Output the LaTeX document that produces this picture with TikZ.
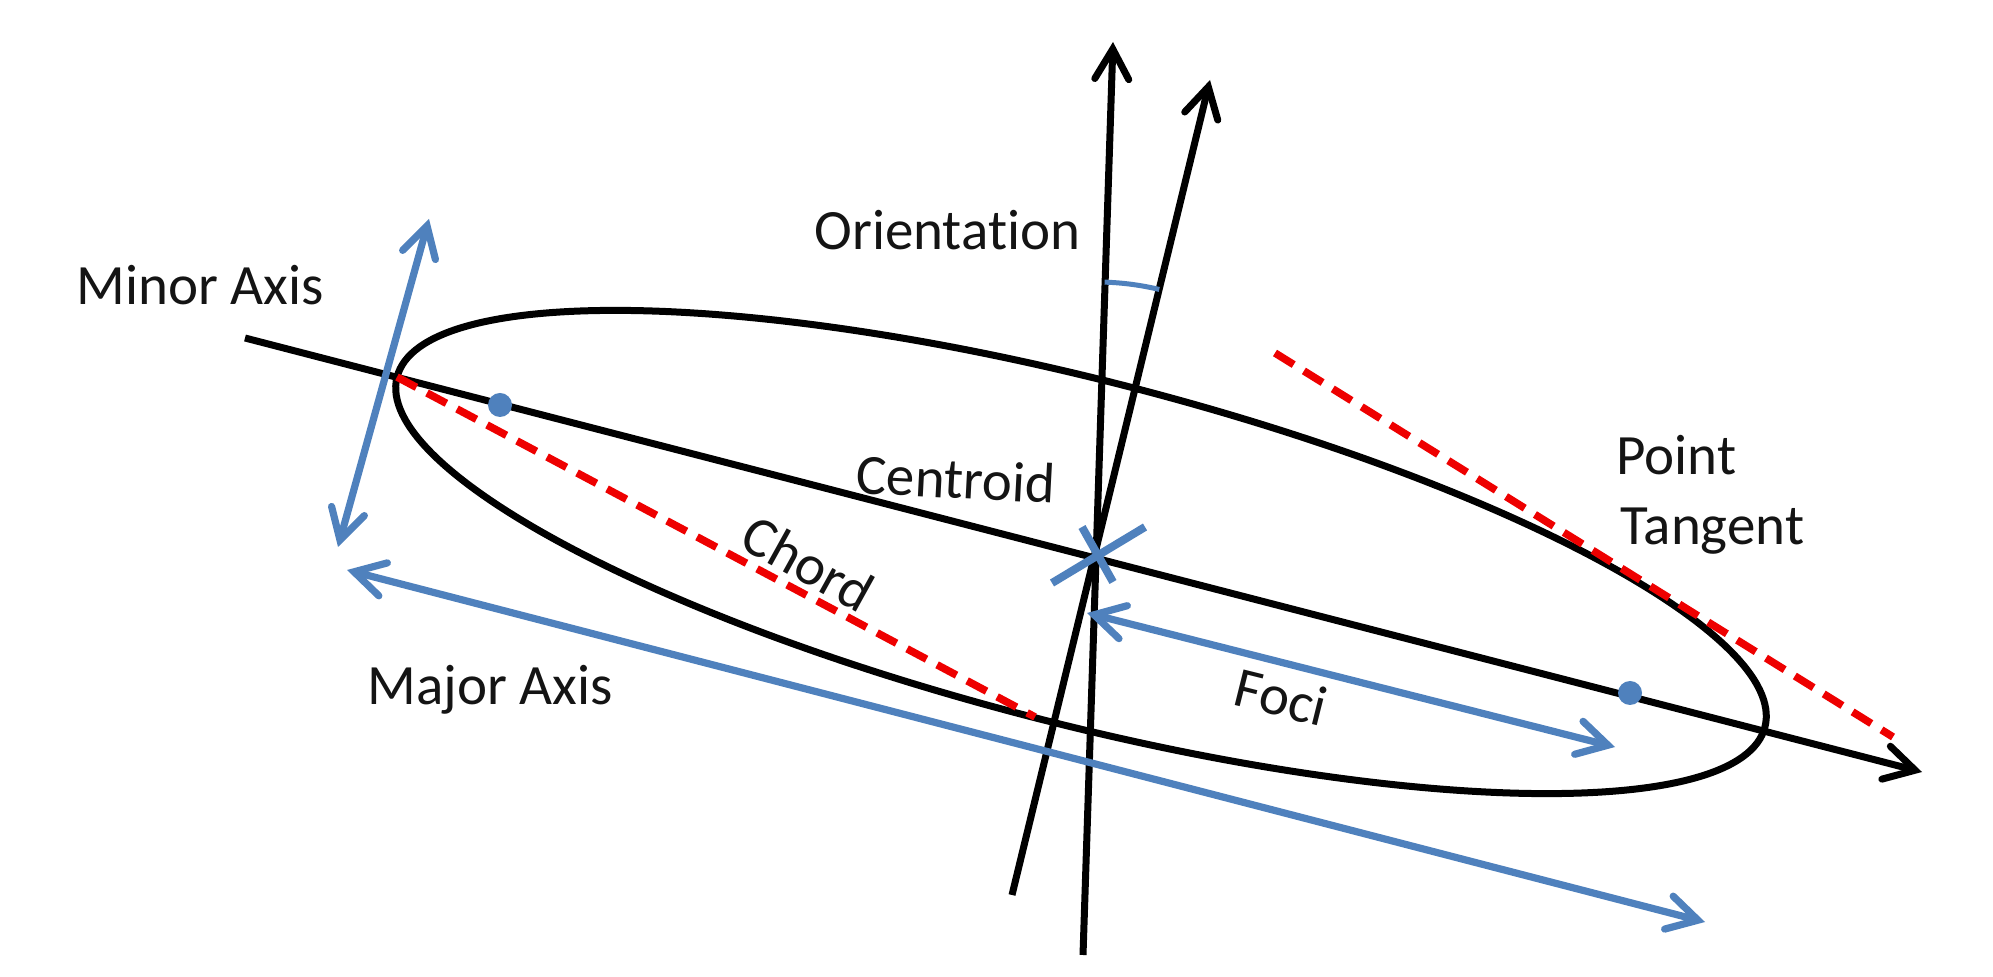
\documentclass[tikz,border=0pt]{standalone}
\usepackage{fontspec}
\setmainfont{Carlito}[Ligatures={NoCommon,NoRare,NoContextual}]
\usetikzlibrary{arrows.meta,calc}
\definecolor{axblue}{RGB}{79,129,189}
\definecolor{dashred}{RGB}{238,0,0}
\definecolor{txt}{RGB}{20,20,20}
\begin{document}
\begin{tikzpicture}[x=0.5pt,y=-0.5pt,
  barb/.tip={Straight Barb[length=15pt,width=17pt,line cap=round]},
  blackline/.style={line width=3.5pt,black},
  blackarrow/.style={blackline,-barb},
  bluearrow/.style={line width=3.6pt,axblue,barb-barb},
  reddash/.style={line width=3.8pt,dashred,dash pattern=on 11pt off 6pt},
  fdot/.style={fill=axblue,draw=none},
  xmark/.style={line width=4pt,axblue},
  lbl/.style={font=\fontsize{28.5}{34}\selectfont,inner sep=0pt,text=txt}
]
\useasboundingbox[fill=white] (0,0) rectangle (1993,977);

% key coordinates
\coordinate (EC) at (1081,552);
\coordinate (O) at (1096,555);
\coordinate (axA) at (245,338);
\coordinate (axB) at (1922,772);
\coordinate (vB) at (1083,955);
\coordinate (vT) at (1113,42);
\coordinate (tB) at (1012,895);
\coordinate (tT) at (1210,80);
\coordinate (mnA) at (338,547);
\coordinate (mnB) at (429,219);
\coordinate (mjA) at (347,570);
\coordinate (mjB) at (1705,922);
\coordinate (fcA) at (1087,613);
\coordinate (fcB) at (1615,747);
\coordinate (chA) at (397,377);
\coordinate (chB) at (1035,717);
\coordinate (tgA) at (1275,353);
\coordinate (tgB) at (1893,737);
\coordinate (f1) at (500,405);
\coordinate (f2) at (1630,693);
\coordinate (xa1) at (1052,583);
\coordinate (xa2) at (1145,527);
\coordinate (xb1) at (1082,527);
\coordinate (xb2) at (1113,582);

% ellipse
\draw[blackline,rotate around={-14.35:(EC)}] (EC) ellipse [x radius=706, y radius=172];

% black axis lines
\draw[blackarrow] (axA) -- (axB);
\draw[blackarrow] (vB) -- (vT);
\draw[blackarrow] (tB) -- (tT);

% orientation arc
\draw[axblue,line width=2.5pt] ($(O)+(-88.2:273)$) arc[start angle=-88.2,end angle=-76.6,radius=273];

% blue arrows
\draw[bluearrow] (mnA) -- (mnB);
\draw[bluearrow] (mjA) -- (mjB);
\draw[bluearrow] (fcA) -- (fcB);

% red dashed lines
\draw[reddash] (chA) -- (chB);
\draw[reddash] (tgA) -- (tgB);

% foci dots
\fill[fdot] (f1) circle [radius=12];
\fill[fdot] (f2) circle [radius=12];

% centroid mark
\draw[xmark] (xa1) -- (xa2);
\draw[xmark] (xb1) -- (xb2);

% labels
\node[lbl,anchor=base west] (lminor) at (76,305) {Minor Axis};
\node[lbl,anchor=base west] (lorient) at (814,250) {Orientat\kern0pt ion};
\node[lbl,anchor=base west,rotate=-3] (lcent) at (855,493) {Centroid};
\node[lbl,rotate=-29] (lchord) at (808,563) {Chord};
\node[lbl,anchor=base west] (lmajor) at (367,705) {Major Axis};
\node[lbl,rotate=-14] (lfoci) at (1281,697) {Foci};
\node[lbl,anchor=base west] (lpoint) at (1616,475) {Point};
\node[lbl,anchor=base west] (ltang) at (1620,545) {Tangent};
\end{tikzpicture}
\end{document}
